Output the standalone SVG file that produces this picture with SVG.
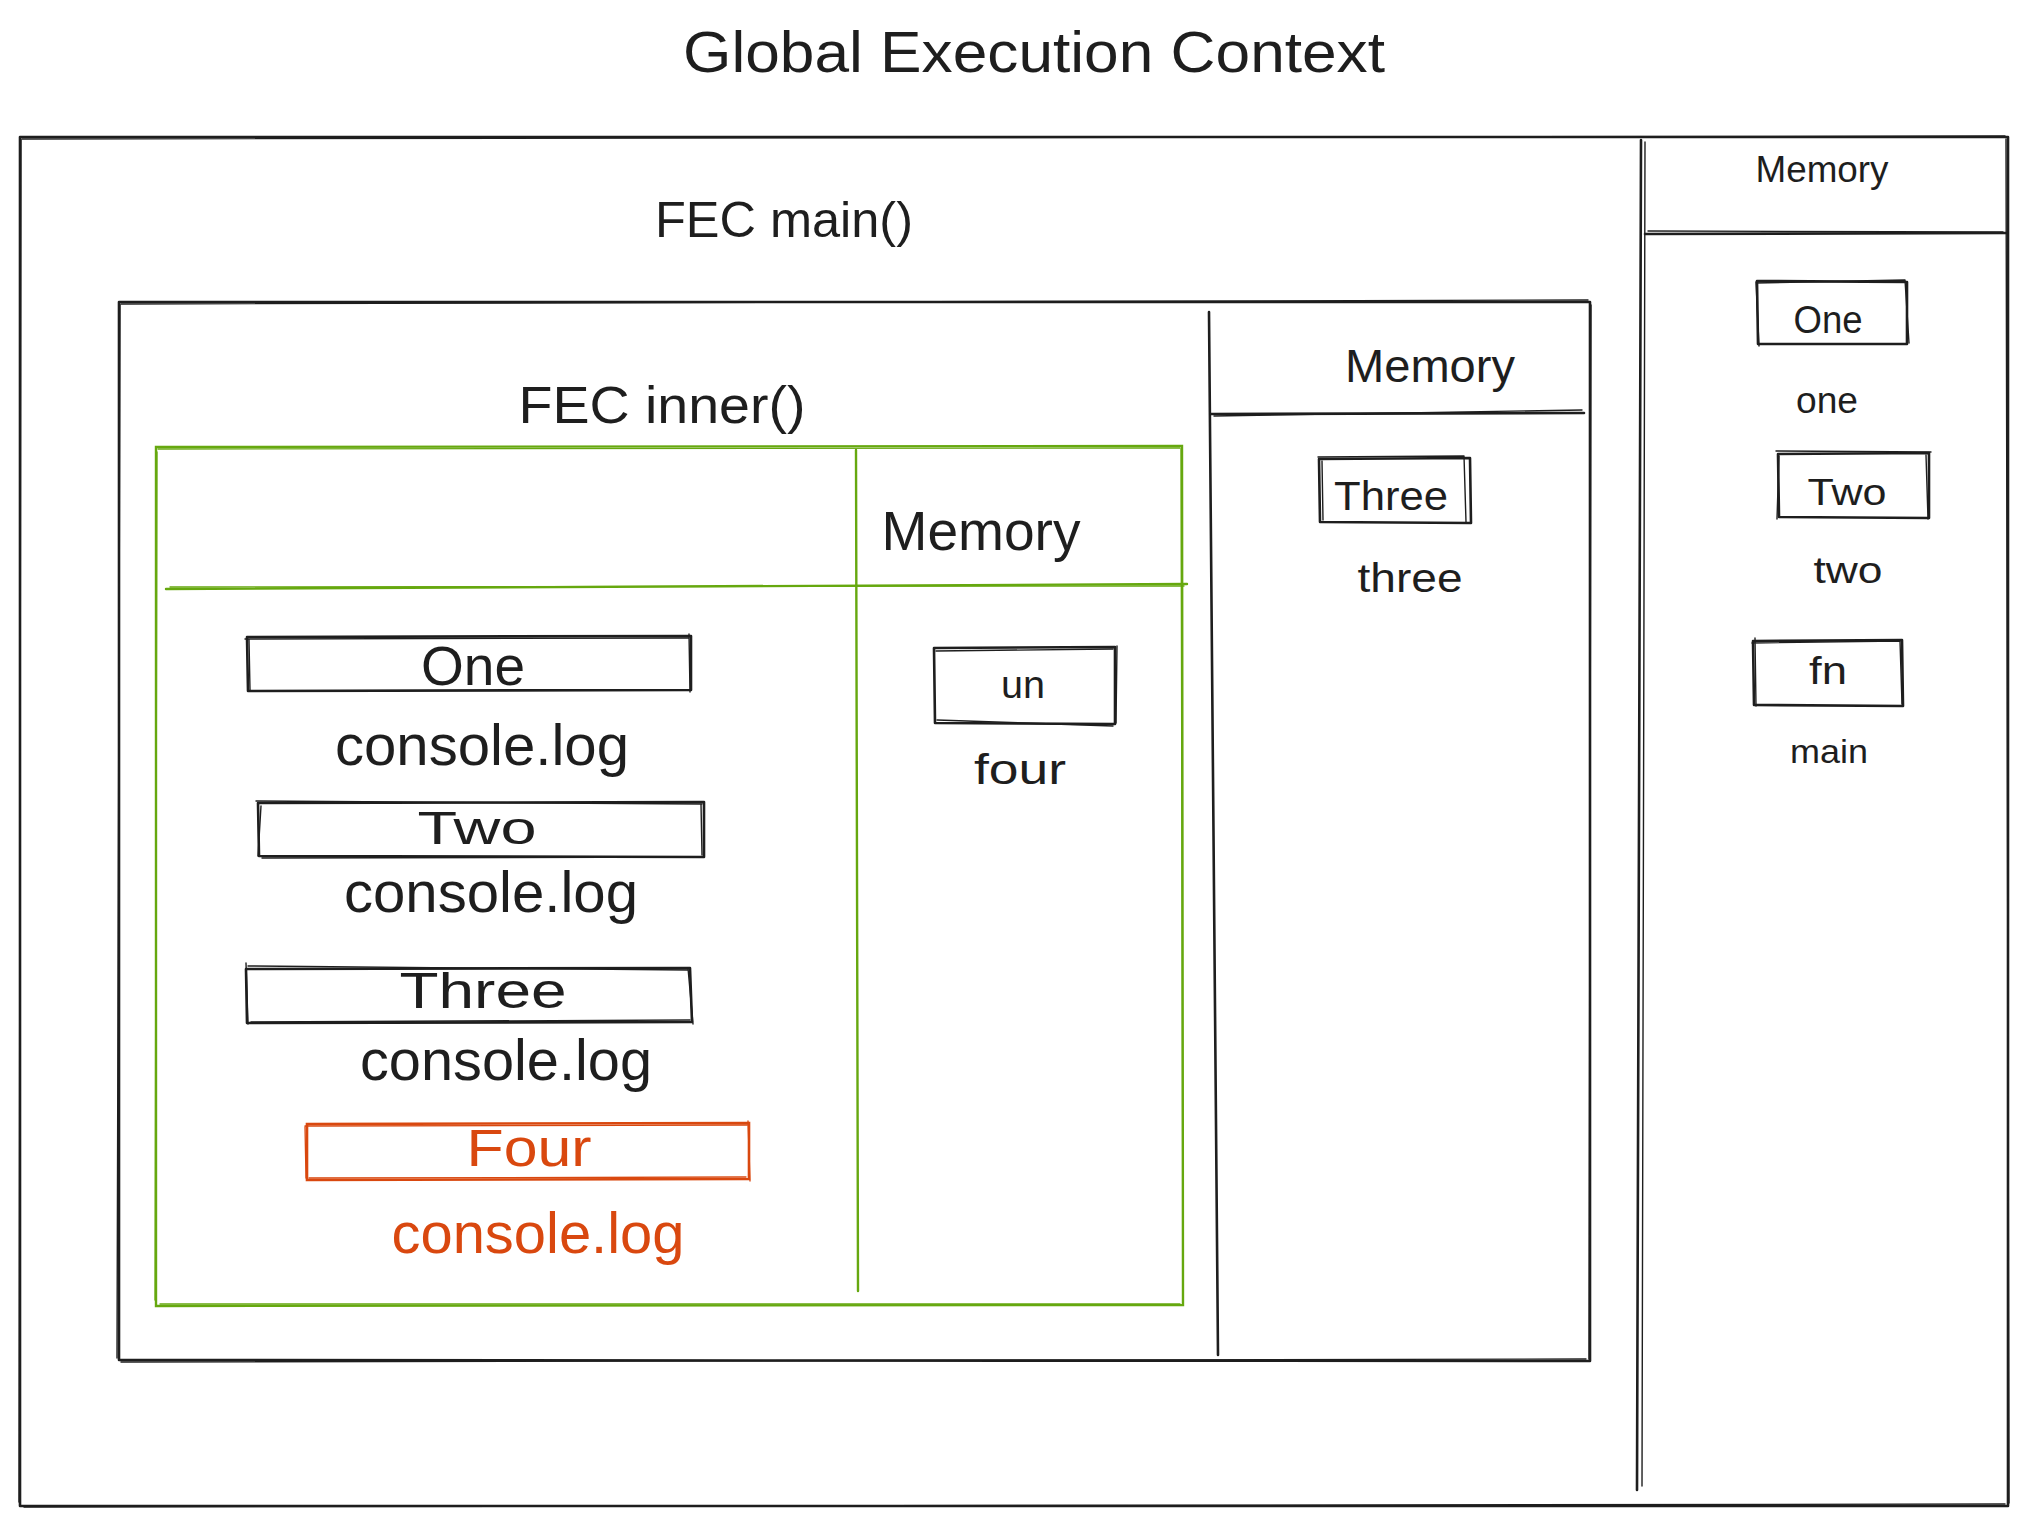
<svg xmlns="http://www.w3.org/2000/svg" width="2028" height="1525" viewBox="0 0 2028 1525">
<style>
text{font-family:"Liberation Sans","DejaVu Sans",sans-serif;fill:#1e1e1e;text-anchor:middle;}
.k{fill:none;stroke:#1e1e1e;stroke-width:2.6;stroke-linecap:round;stroke-linejoin:round;}
.k2{fill:none;stroke:#1e1e1e;stroke-width:1.4;stroke-linecap:round;stroke-linejoin:round;}
.g{fill:none;stroke:#66a80f;stroke-width:2.4;stroke-linecap:round;}
.g2{fill:none;stroke:#66a80f;stroke-width:1.3;stroke-linecap:round;}
.o{fill:none;stroke:#d9480f;stroke-width:2.6;stroke-linecap:round;}
.o2{fill:none;stroke:#d9480f;stroke-width:1.3;stroke-linecap:round;}
.red{fill:#d9480f;}
</style>
<rect width="2028" height="1525" fill="#ffffff"/>

<text id="title" x="1034" y="72" font-size="58" textLength="702" lengthAdjust="spacingAndGlyphs">Global Execution Context</text>

<g id="global-context">
  <path class="k" d="M20,137 L2008,137 L2008,1506 L20,1506 Z"/>
  <path class="k2" d="M22,139 L2005,136 M2006,139 L2009,1503 M2005,1504 L24,1507 M19,1502 L21,140"/>
  <path class="k" d="M1641,140 L1637,1490"/>
  <path class="k2" d="M1645,142 L1642,1486"/>
</g>

<g id="global-memory">
  <text x="1822" y="182" font-size="36" textLength="133" lengthAdjust="spacingAndGlyphs">Memory</text>
  <path class="k" d="M1645,234 L2007,233"/>
  <path class="k2" d="M1648,231 L2003,232"/>
  <g id="gm-one">
    <path class="k" d="M1757,281 L1907,282 L1907,344 L1758,344 Z"/>
    <path class="k2" d="M1756,283 L1905,280 L1909,343 M1759,346 L1756,282"/>
    <text x="1828" y="333" font-size="38" textLength="69" lengthAdjust="spacingAndGlyphs">One</text>
  </g>
  <text id="gm-one-val" x="1827" y="413" font-size="36" textLength="62" lengthAdjust="spacingAndGlyphs">one</text>
  <g id="gm-two">
    <path class="k" d="M1778,454 L1929,453 L1929,518 L1779,517 Z"/>
    <path class="k2" d="M1776,451 L1931,452 M1926,455 L1928,519 M1777,519 L1779,456"/>
    <text x="1847" y="505" font-size="36" textLength="79" lengthAdjust="spacingAndGlyphs">Two</text>
  </g>
  <text id="gm-two-val" x="1848" y="583" font-size="36" textLength="69" lengthAdjust="spacingAndGlyphs">two</text>
  <g id="gm-fn">
    <path class="k" d="M1753,641 L1902,640 L1903,706 L1754,705 Z"/>
    <path class="k2" d="M1755,638 L1756,706 M1752,643 L1900,641 L1902,704"/>
    <text x="1828" y="684" font-size="38" textLength="38" lengthAdjust="spacingAndGlyphs">fn</text>
  </g>
  <text id="gm-fn-val" x="1829" y="763" font-size="34" textLength="78" lengthAdjust="spacingAndGlyphs">main</text>
</g>

<g id="fec-main">
  <text x="784" y="237" font-size="50" textLength="258" lengthAdjust="spacingAndGlyphs">FEC main()</text>
  <path class="k" d="M119,302 L1590,302 L1590,1361 L119,1360 Z" stroke-width="3"/>
  <path class="k2" d="M121,304 L1588,300 M1591,305 L1589,1359 M121,1362 L1586,1359 M117,1358 L120,305"/>
  <path class="k" d="M1209,312 L1218,1355"/>
  <path class="k" d="M1211,414 L1584,413"/>
  <path class="k2" d="M1214,416 L1582,410"/>
  <text x="1430" y="382" font-size="46" textLength="170" lengthAdjust="spacingAndGlyphs">Memory</text>
  <g id="fm-three">
    <path class="k" d="M1319,459 L1470,458 L1471,523 L1320,522 Z"/>
    <path class="k2" d="M1322,461 L1323,520 M1318,457 L1464,456 L1466,522"/>
    <text x="1391" y="510" font-size="40" textLength="114" lengthAdjust="spacingAndGlyphs">Three</text>
  </g>
  <text id="fm-three-val" x="1410" y="592" font-size="40" textLength="105" lengthAdjust="spacingAndGlyphs">three</text>
</g>

<g id="fec-inner">
  <text x="662" y="423" font-size="52" textLength="287" lengthAdjust="spacingAndGlyphs">FEC inner()</text>
  <path class="g" d="M156,447 L1182,446 L1183,1305 L156,1306 Z"/>
  <path class="g2" d="M158,449 L1180,448 M1181,449 L1183,1303 M160,1304 L1180,1304 M155,1300 L157,452"/>
  <path class="g" d="M856,450 L858,1291"/>
  <path class="g" d="M166,589 L1187,584"/>
  <path class="g2" d="M170,587 L1184,586"/>
  <text x="981" y="550" font-size="56" textLength="199" lengthAdjust="spacingAndGlyphs">Memory</text>

  <g id="fi-one">
    <path class="k" d="M247,637 L691,636 L691,690 L248,691 Z"/>
    <path class="k2" d="M245,639 L688,638 M689,634 L690,692 M250,690 L249,640"/>
    <text x="473" y="685" font-size="56" textLength="104" lengthAdjust="spacingAndGlyphs">One</text>
  </g>
  <text id="fi-log1" x="482" y="765" font-size="58" textLength="294" lengthAdjust="spacingAndGlyphs">console.log</text>
  <g id="fi-two">
    <path class="k" d="M258,803 L704,802 L704,857 L259,856 Z"/>
    <path class="k2" d="M256,801 L702,804 M701,804 L702,855 M262,858 L700,857 M261,806 L258,856"/>
    <text x="477" y="844" font-size="46" textLength="119" lengthAdjust="spacingAndGlyphs">Two</text>
  </g>
  <text id="fi-log2" x="491" y="912" font-size="58" textLength="294" lengthAdjust="spacingAndGlyphs">console.log</text>
  <g id="fi-three">
    <path class="k" d="M246,969 L690,968 L692,1022 L247,1023 Z"/>
    <path class="k2" d="M248,966 L688,970 M688,968 L693,1024 M251,1022 L690,1020 M246,963 L248,1024"/>
    <text x="483" y="1008" font-size="50" textLength="167" lengthAdjust="spacingAndGlyphs">Three</text>
  </g>
  <text id="fi-log3" x="506" y="1080" font-size="58" textLength="292" lengthAdjust="spacingAndGlyphs">console.log</text>
  <g id="fi-four">
    <path class="o" d="M307,1124 L749,1123 L749,1179 L307,1180 Z"/>
    <path class="o2" d="M305,1126 L747,1125 M748,1121 L750,1181 M309,1178 L746,1177 M306,1178 L305,1127"/>
    <text class="red" x="529" y="1166" font-size="51" textLength="125" lengthAdjust="spacingAndGlyphs">Four</text>
  </g>
  <text id="fi-log4" class="red" x="538" y="1253" font-size="58" textLength="293" lengthAdjust="spacingAndGlyphs">console.log</text>

  <g id="fi-un">
    <path class="k" d="M934,648 L1115,647 L1115,724 L935,723 Z"/>
    <path class="k2" d="M936,651 L1113,649 M1117,646 L1116,723 M937,720 L1113,726"/>
    <text x="1023" y="698" font-size="38" textLength="44" lengthAdjust="spacingAndGlyphs">un</text>
  </g>
  <text id="fi-un-val" x="1020" y="784" font-size="42" textLength="92" lengthAdjust="spacingAndGlyphs">four</text>
</g>
</svg>
